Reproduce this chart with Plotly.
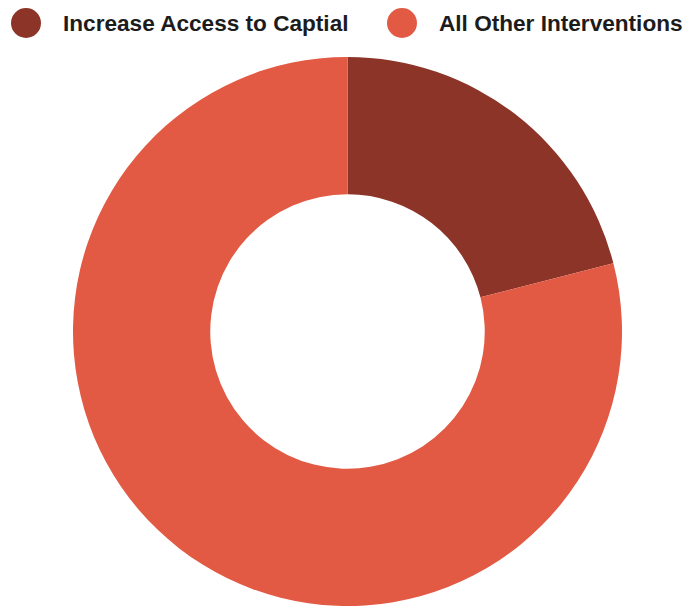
import plotly.graph_objects as go

labels = ["Increase Access to Captial", "All Other Interventions"]
values = [21, 79]
colors = ["#8C3427", "#E25A43"]

fig = go.Figure(go.Pie(
    labels=labels, values=values, hole=0.5, sort=False, direction="clockwise",
    rotation=0, marker=dict(colors=colors), textinfo="none", hoverinfo="label+percent",
    showlegend=False,
))

# custom legend with circle markers
legend_x = [(26, 61), (402, 437)]
for (cx, tx), lab, col in zip(legend_x, labels, colors):
    fig.add_shape(type="circle", xref="paper", yref="paper",
                  x0=(cx - 15) / 695, x1=(cx + 15) / 695,
                  y0=1 + (57 - 8) / 549, y1=1 + (57 - 38) / 549,
                  fillcolor=col, line=dict(width=0))
    fig.add_annotation(text=f"<b>{lab}</b>", xref="paper", yref="paper",
                       x=tx / 695, y=1 + (57 - 24) / 549, xanchor="left", yanchor="middle",
                       showarrow=False, font=dict(family="Liberation Sans, Arial", size=22.6, color="#1c1c1c"))

fig.update_layout(width=695, height=606, margin=dict(l=0, r=0, t=57, b=0),
                  paper_bgcolor="white", plot_bgcolor="white")
fig.write_html("out.html")
